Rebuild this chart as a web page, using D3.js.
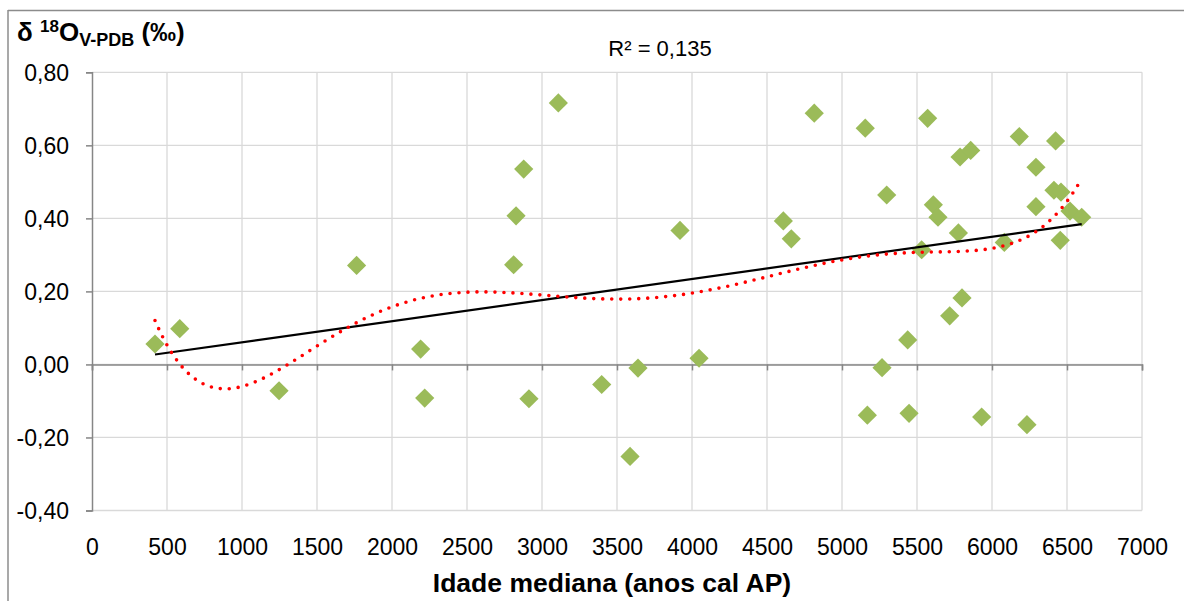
<!DOCTYPE html>
<html>
<head>
<meta charset="utf-8">
<script src="https://cdn.jsdelivr.net/npm/d3@7"></script>
<style>
  body { margin: 0; background: #fff; }
  text { font-family: "Liberation Sans", Arial, sans-serif; fill: #000; }
</style>
</head>
<body>
<script>
// ages (anos cal AP) and d18O values
var ages = [420, 585, 1247, 1764, 2191, 2218, 2811, 2827, 2878, 2913, 3109,
    3398, 3587, 3640, 3920, 4047, 4609, 4662, 4815, 5155, 5169, 5267, 5298,
    5438, 5447, 5531, 5571, 5609, 5640, 5718, 5776, 5787, 5800, 5858, 5931,
    6082, 6182, 6233, 6293, 6293, 6413, 6424, 6455, 6460, 6520, 6598];
var d18O = [0.056, 0.098, -0.072, 0.271, 0.042, -0.092, 0.273, 0.407, 0.535, -0.094, 0.716,
    -0.055, -0.252, -0.010, 0.367, 0.017, 0.393, 0.344, 0.688, 0.647, -0.139, -0.009, 0.464,
    0.067, -0.134, 0.314, 0.674, 0.437, 0.403, 0.133, 0.360, 0.568, 0.182, 0.586, -0.144,
    0.334, 0.624, -0.165, 0.540, 0.432, 0.477, 0.612, 0.340, 0.472, 0.420, 0.403];

var xTicks = d3.range(0, 7001, 500);
var yTicks = [-0.4, -0.2, 0, 0.2, 0.4, 0.6, 0.8];
var r2Label = "R² = 0,135";

var svgWidth = 1184;
var svgHeight = 601;

var margin = { top: 72.3, right: 42, bottom: 90.5, left: 92 };

var svg = d3.select("body").append("svg")
    .attr("width", svgWidth)
    .attr("height", svgHeight);

var x = d3.scaleLinear().domain([0, 7000]).range([margin.left, svgWidth - margin.right]);
var y = d3.scaleLinear().domain([-0.4, 0.8]).range([svgHeight - margin.bottom, margin.top]);

// outer chart border (only top and left are visible)
svg.append("line").attr("x1", 8).attr("x2", svgWidth).attr("y1", 10.5).attr("y2", 10.5)
    .attr("stroke", "#8c8c8c").attr("stroke-width", 1.5);
svg.append("line").attr("x1", 8).attr("x2", 8).attr("y1", 10).attr("y2", svgHeight)
    .attr("stroke", "#8c8c8c").attr("stroke-width", 1.5);

// gridlines
var grid = svg.append("g");
grid.selectAll(".vgrid").data(xTicks.filter(d => d > 0)).enter().append("line")
    .attr("x1", d => x(d)).attr("x2", d => x(d))
    .attr("y1", y(0.8)).attr("y2", y(-0.4))
    .attr("stroke", "#d9d9d9").attr("stroke-width", 1.3);
grid.selectAll(".hgrid").data(yTicks).enter().append("line")
    .attr("x1", x(0)).attr("x2", x(7000))
    .attr("y1", d => y(d)).attr("y2", d => y(d))
    .attr("stroke", "#d9d9d9").attr("stroke-width", 1.3);

// y axis
var yAxis = d3.axisLeft(y).tickValues(yTicks).tickSize(6)
    .tickFormat(d => d.toFixed(2).replace(".", ","));
var yg = svg.append("g").attr("transform", `translate(${x(0)},0)`).call(yAxis);
yg.select(".domain").attr("stroke", "#868686").attr("stroke-width", 1.5);
yg.selectAll(".tick line").attr("stroke", "#868686").attr("stroke-width", 1.5);
yg.selectAll(".tick text").attr("x", -23).attr("dy", "0.36em")
    .style("font-size", "23px").style("font-family", "Liberation Sans, Arial, sans-serif");

// x axis at zero, labels under the plot
var xAxis = d3.axisBottom(x).tickValues(xTicks).tickSize(6).tickFormat(d3.format("d"));
var xg = svg.append("g").attr("transform", `translate(0,${y(0)})`).call(xAxis);
xg.select(".domain").attr("stroke", "#868686").attr("stroke-width", 1.5);
xg.selectAll(".tick line").attr("stroke", "#868686").attr("stroke-width", 1.5);
xg.selectAll(".tick text")
    .attr("y", y(-0.4) - y(0) + 45).attr("dy", 0)
    .style("font-size", "23px").style("font-family", "Liberation Sans, Arial, sans-serif");

// points
var diamond = d3.symbol().type(d3.symbolDiamond2).size(235);
svg.append("g").selectAll("path").data(ages).enter().append("path")
    .attr("d", diamond)
    .attr("transform", (d, i) => `translate(${x(d)},${y(d18O[i])})`)
    .attr("fill", "#9bbb59");

// linear trend
var mx = d3.mean(ages), my = d3.mean(d18O);
var sxy = d3.sum(ages, (d, i) => (d - mx) * (d18O[i] - my));
var sxx = d3.sum(ages, d => (d - mx) * (d - mx));
var slope = sxy / sxx, icpt = my - slope * mx;
var xMin = d3.min(ages), xMax = d3.max(ages);

svg.append("line")
    .attr("x1", x(xMin)).attr("y1", y(icpt + slope * xMin))
    .attr("x2", x(xMax)).attr("y2", y(icpt + slope * xMax))
    .attr("stroke", "#000").attr("stroke-width", 2.2);

// polynomial trend (order 6), least squares on a scaled x
function polyFit(xs, ys, deg) {
    var m = deg + 1;
    var A = [];
    for (var r = 0; r < m; r++) {
        A.push(new Array(m + 1).fill(0));
    }
    xs.forEach((xv, k) => {
        for (var r = 0; r < m; r++) {
            for (var c = 0; c < m; c++) A[r][c] += Math.pow(xv, r + c);
            A[r][m] += Math.pow(xv, r) * ys[k];
        }
    });
    for (var p = 0; p < m; p++) {
        var best = p;
        for (var r = p + 1; r < m; r++) if (Math.abs(A[r][p]) > Math.abs(A[best][p])) best = r;
        var tmp = A[p]; A[p] = A[best]; A[best] = tmp;
        for (var r = 0; r < m; r++) {
            if (r === p) continue;
            var f = A[r][p] / A[p][p];
            for (var c = p; c <= m; c++) A[r][c] -= f * A[p][c];
        }
    }
    return A.map((row, i) => row[m] / row[i]);
}
var toT = v => (v - 3500) / 3100;
var coef = polyFit(ages.map(toT), d18O, 6);
var polyVal = v => coef.reduce((s, c, i) => s + c * Math.pow(toT(v), i), 0);
var curveX = d3.range(xMin, xMax, 20).concat([xMax]);

svg.append("path")
    .datum(curveX)
    .attr("d", d3.line().x(d => x(d)).y(d => y(polyVal(d))))
    .attr("fill", "none")
    .attr("stroke", "#ff0000")
    .attr("stroke-width", 3.6)
    .attr("stroke-linecap", "round")
    .attr("stroke-dasharray", "0 9");

// texts
svg.append("text").attr("x", 660).attr("y", 56).attr("text-anchor", "middle")
    .style("font-size", "22px").text(r2Label);

svg.append("text").attr("x", 612).attr("y", 592).attr("text-anchor", "middle")
    .style("font-size", "26.5px").style("font-weight", "bold")
    .text("Idade mediana (anos cal AP)");

var yt = svg.append("text").attr("x", 17).attr("y", 41)
    .style("font-size", "26px").style("font-weight", "bold");
yt.append("tspan").text("δ ");
yt.append("tspan").attr("dy", -9).style("font-size", "17px").text("18");
yt.append("tspan").attr("dy", 9).text("O");
yt.append("tspan").attr("dy", 5).style("font-size", "18px").text("V-PDB");
yt.append("tspan").attr("dy", -5).text(" (‰)");
</script>
</body>
</html>
